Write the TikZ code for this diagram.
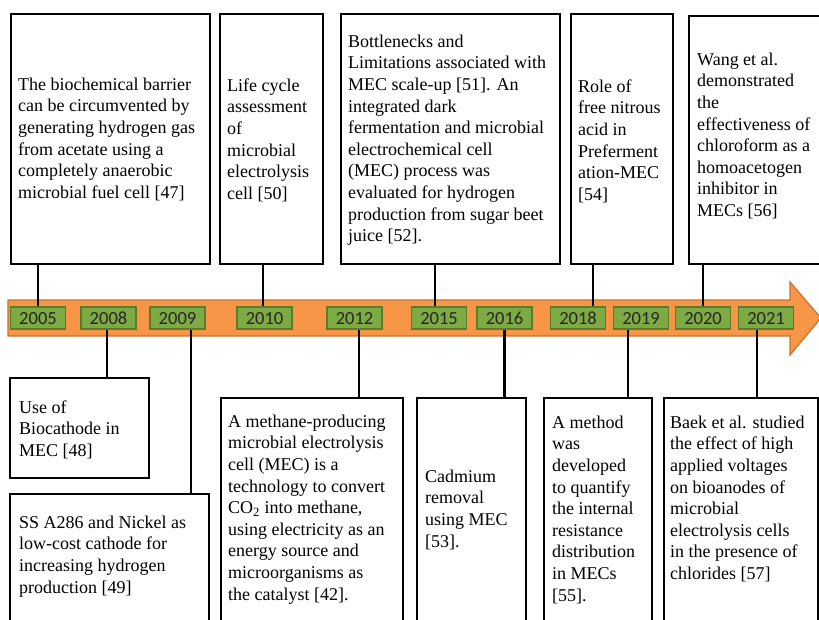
\documentclass[tikz,border=0pt]{standalone}
\usepackage{fontspec}
\setmainfont{Liberation Serif}
\newfontfamily\notefont{Liberation Serif}
\newfontfamily\yearfont{Carlito}
\definecolor{arrowfill}{HTML}{F79646}
\definecolor{arrowline}{HTML}{C8732F}
\definecolor{yearfill}{HTML}{7DAA43}
\definecolor{yearline}{HTML}{5B7D2B}

\begin{document}
\begin{tikzpicture}
        [x=1pt, y=-1pt,
         card/.style={draw, line width=2.2pt, anchor=north west, inner sep=0, fill=white},
         note/.style={anchor=north west, inner sep=0, align=left, font=\notefont\fontsize{18}{21.6}\selectfont},
         yearbox/.style={draw=yearline, fill=yearfill, line width=1.5pt, minimum width=55pt, minimum height=22pt, inner sep=0, text height=12pt, text depth=0pt, font=\yearfont\fontsize{18.5}{20}\selectfont, text=black!85},
         link/.style={line width=2.5pt, black}]

        \useasboundingbox (0,0) rectangle (819,619);
        \fill[white] (0,0) rectangle (819,619);
        \clip (0,0) rectangle (819,619);

        % timeline arrow
        \draw[fill=arrowfill, draw=arrowline, line width=1.2pt]
          (8,300) -- (790,300) -- (790,282) -- (821,318) -- (790,355) -- (790,336) -- (8,336) -- cycle;

        % boxes above the arrow
        \node[card, minimum width=199pt, minimum height=250pt] (b2005) at (10,13) {};
        \node[card, minimum width=103pt, minimum height=250pt] (b2010) at (219,13) {};
        \node[card, minimum width=219pt, minimum height=250pt] (b2015) at (340,13) {};
        \node[card, minimum width=102pt, minimum height=250pt] (b2018) at (570,13) {};
        \node[card, minimum width=150pt, minimum height=248pt] (b2020) at (688,15) {};

        % boxes below the arrow
        \node[card, minimum width=139pt, minimum height=100pt] (b2008) at (9,377) {};
        \node[card, minimum width=199pt, minimum height=150pt] (b2009) at (9,493) {};
        \node[card, minimum width=182pt, minimum height=240pt] (b2012) at (220,397) {};
        \node[card, minimum width=109pt, minimum height=240pt] (b2016) at (416,397) {};
        \node[card, minimum width=108pt, minimum height=240pt] (b2019) at (543,397) {};
        \node[card, minimum width=154pt, minimum height=240pt] (b2021) at (663,397) {};

        % texts
        \node[note] (t2005) at ([shift={(8,62)}]b2005.north west) {\strut The biochemical barrier\\can be circumvented by\\generating hydrogen gas\\from acetate using a\\completely anaerobic\\microbial fuel cell [47]};
        \node[note] (t2010) at ([shift={(8,63)}]b2010.north west) {\strut Life cycle\\assessment\\of\\microbial\\electrolysis\\cell [50]};
        \node[note] (t2015) at ([shift={(8,19)}]b2015.north west) {\strut Bottlenecks and\\Limitations associated with\\MEC scale-up [51]. An\\integrated dark\\fermentation and microbial\\electrochemical cell\\(MEC) process was\\evaluated for hydrogen\\production from sugar beet\\juice [52].};
        \node[note] (t2018) at ([shift={(8,64)}]b2018.north west) {\strut Role of\\free nitrous\\acid in\\Preferment\\ation-MEC\\{[54]}};
        \node[note] (t2020) at ([shift={(9,35)}]b2020.north west) {\strut Wang et al.\\demonstrated\\the\\effectiveness of\\chloroform as a\\homoacetogen\\inhibitor in\\MECs [56]};
        \node[note] (t2008) at ([shift={(10,21)}]b2008.north west) {\strut Use of\\Biocathode in\\MEC [48]};
        \node[note] (t2009) at ([shift={(10,20)}]b2009.north west) {\strut SS A286 and Nickel as\\low-cost cathode for\\increasing hydrogen\\production [49]};
        \node[note] (t2012) at ([shift={(8,15)}]b2012.north west) {\strut A methane-producing\\microbial electrolysis\\cell (MEC) is a\\technology to convert\\CO\textsubscript{2} into methane,\\using electricity as an\\energy source and\\microorganisms as\\the catalyst [42].};
        \node[note] (t2016) at ([shift={(9,70)}]b2016.north west) {\strut Cadmium\\removal\\using MEC\\{[53].}};
        \node[note] (t2019) at ([shift={(9,16)}]b2019.north west) {\strut A method\\was\\developed\\to quantify\\the internal\\resistance\\distribution\\in MECs\\{[55].}};
        \node[note] (t2021) at ([shift={(7,16)}]b2021.north west) {\strut Baek et al. studied\\the effect of high\\applied voltages\\on bioanodes of\\microbial\\electrolysis cells\\in the presence of\\chlorides [57]};

        % years
        \foreach \yr/\xc in {2005/38, 2008/108.5, 2009/177.5, 2010/264.5, 2012/354.5, 2015/439,
                             2016/504.5, 2018/578, 2019/641, 2020/703, 2021/766}
          \node[yearbox] (y\yr) at (\xc,318) {\yr};

        % connectors
        \foreach \yr/\dx in {2005/0, 2010/-1.5, 2015/-4, 2018/15, 2020/0}
          \draw[link] ([xshift=\dx]y\yr.north) -- ([xshift=\dx]y\yr.north |- b\yr.south);
        \foreach \yr/\dx in {2008/-1.5, 2009/13.5, 2012/4.5, 2016/0, 2019/-13, 2021/-9}
          \draw[link] ([xshift=\dx]y\yr.south) -- ([xshift=\dx]y\yr.south |- b\yr.north);

      \end{tikzpicture}
\end{document}
